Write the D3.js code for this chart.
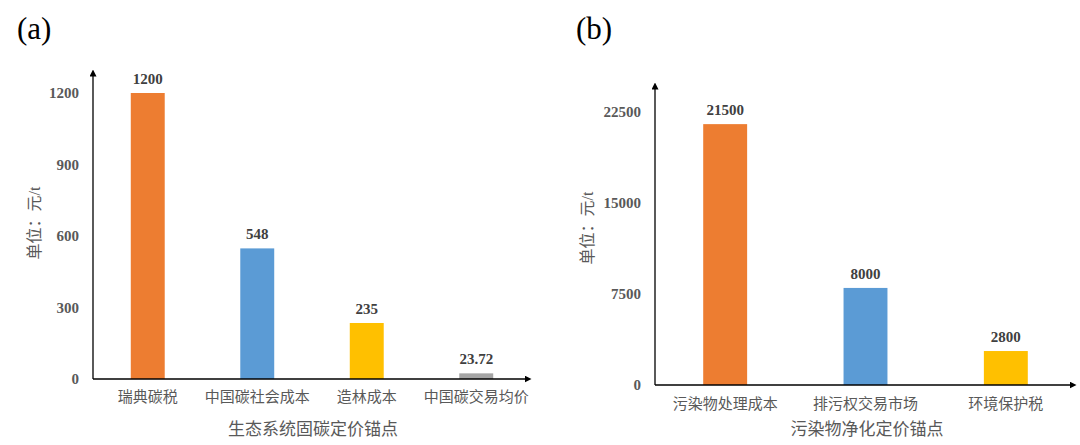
<!DOCTYPE html>
<html><head><meta charset="utf-8">
<script src="https://cdn.jsdelivr.net/npm/d3@7"></script>
<style>
html,body{margin:0;padding:0;background:#fff;}
svg{display:block;}
</style></head>
<body>
<svg id="chart" width="1080" height="445"></svg>
<script>
// ---- data ----
const categoriesA = ["瑞典碳税", "中国碳社会成本", "造林成本", "中国碳交易均价"];
const valuesA = [1200, 548, 235, 23.72];
const labelsA = ["1200", "548", "235", "23.72"];
const ticksA = [0, 300, 600, 900, 1200];
const titleA = "生态系统固碳定价锚点";

const categoriesB = ["污染物处理成本", "排污权交易市场", "环境保护税"];
const valuesB = [21500, 8000, 2800];
const labelsB = ["21500", "8000", "2800"];
const ticksB = [0, 7500, 15000, 22500];
const titleB = "污染物净化定价锚点";

const colors = ["#ED7D31", "#5B9BD5", "#FFC000", "#A5A5A5"];
const yLabel = "单位：元/t";

const svg = d3.select("#chart");
const latin = "'Liberation Serif','Times New Roman',serif";
const mixed = "'Liberation Serif','Noto Sans CJK SC',serif";

const defs = svg.append("defs");
defs.append("marker").attr("id","arrow").attr("viewBox","0 0 10 10")
  .attr("refX",5).attr("refY",5).attr("markerWidth",7).attr("markerHeight",7)
  .attr("markerUnits","userSpaceOnUse").attr("orient","auto")
  .append("path").attr("d","M0,0 L10,5 L0,10 Z").attr("fill","#000");

function panel(cfg){
  const g = svg.append("g");
  const x = d3.scaleBand().domain(cfg.cats).range([cfg.x0, cfg.x1])
    .paddingInner(cfg.pad).paddingOuter(cfg.pad/2);
  const y = d3.scaleLinear().domain([0, cfg.max]).range([cfg.base, cfg.top]);

  // bars
  g.selectAll("rect.bar").data(cfg.vals).enter().append("rect")
    .attr("x",(d,i)=>x(cfg.cats[i])).attr("width",x.bandwidth())
    .attr("y",d=>y(d)).attr("height",d=>y(0)-y(d))
    .attr("fill",(d,i)=>colors[i]);

  // value labels
  g.selectAll("text.val").data(cfg.vals).enter().append("text")
    .attr("x",(d,i)=>x(cfg.cats[i])+x.bandwidth()/2)
    .attr("y",d=>y(d)-9)
    .attr("text-anchor","middle")
    .attr("font-family",latin).attr("font-weight","bold").attr("font-size",15)
    .attr("fill","#404040")
    .text((d,i)=>cfg.labels[i]);

  // y axis ticks
  const ax = d3.axisLeft(y).tickValues(cfg.ticks).tickSize(0).tickPadding(14)
    .tickFormat(d3.format("d"));
  const ag = g.append("g").attr("transform",`translate(${cfg.x0},0)`).call(ax);
  ag.select(".domain").remove();
  ag.selectAll("text").attr("font-family",latin).attr("font-weight","bold")
    .attr("font-size",15).attr("fill","#595959");

  // axis lines with arrows
  g.append("line").attr("x1",cfg.x0).attr("x2",cfg.x0)
    .attr("y1",y(0)).attr("y2",cfg.arrowTop+3)
    .attr("stroke","#000").attr("stroke-width",1.3).attr("marker-end","url(#arrow)");
  g.append("line").attr("x1",cfg.x0).attr("x2",cfg.arrowRight-3)
    .attr("y1",y(0)).attr("y2",y(0))
    .attr("stroke","#000").attr("stroke-width",1.3).attr("marker-end","url(#arrow)");

  // category labels
  const xa = d3.axisBottom(x).tickSize(0).tickPadding(cfg.catPad);
  const xg = g.append("g").attr("transform",`translate(0,${cfg.base})`).call(xa);
  xg.select(".domain").remove();
  xg.selectAll("text").attr("font-family",mixed).attr("font-size",15).attr("fill","#595959");

  // x title
  g.append("text").attr("x",cfg.titleX).attr("y",435).attr("text-anchor","middle")
    .attr("font-family",mixed).attr("font-size",17).attr("fill","#595959").text(cfg.title);

  // y title
  g.append("text").attr("transform",`translate(${cfg.yLabX},${cfg.yLabY}) rotate(-90)`)
    .attr("text-anchor","middle").attr("dominant-baseline","middle")
    .attr("font-family",mixed).attr("font-size",16).attr("fill","#595959").text(yLabel);

  // panel tag
  g.append("text").attr("x",cfg.tagX).attr("y",39)
    .attr("font-family",latin).attr("font-size",31).attr("fill","#000").text(cfg.tag);
}

panel({cats:categoriesA, vals:valuesA, labels:labelsA, ticks:ticksA, max:1200,
  x0:93, x1:531, pad:0.69, base:379, top:93, arrowTop:70, arrowRight:531,
  catPad:12, title:titleA, titleX:313, yLabX:36, yLabY:223, tag:"(a)", tagX:17});

panel({cats:categoriesB, vals:valuesB, labels:labelsB, ticks:ticksB, max:22500,
  x0:655, x1:1076, pad:0.687, base:385, top:112, arrowTop:83, arrowRight:1076,
  catPad:13, title:titleB, titleX:867, yLabX:589, yLabY:228, tag:"(b)", tagX:576});
</script>
</body></html>
